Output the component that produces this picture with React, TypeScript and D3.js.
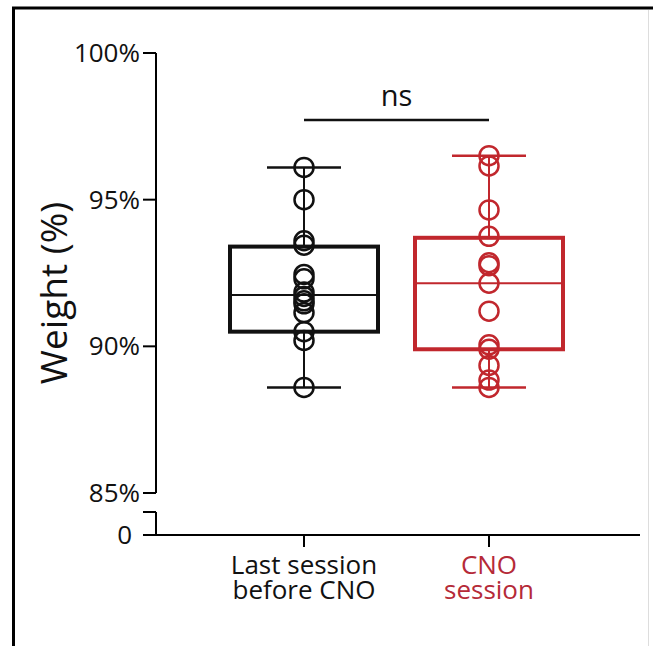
import React from "react";
import * as d3 from "d3";

const categories = ["Last session\nbefore CNO", "CNO\nsession"];
const beforeValues = [96.1, 95.0, 93.6, 93.45, 92.45, 92.3, 91.85, 91.7, 91.55, 91.45, 91.15, 90.5, 90.2, 88.6];
const cnoValues = [96.5, 96.15, 94.65, 93.75, 92.85, 92.75, 92.15, 91.2, 90.05, 89.9, 89.35, 88.85, 88.6];
const boxStats = [
  { q1: 90.5, median: 91.75, q3: 93.4, min: 88.6, max: 96.1 },
  { q1: 89.9, median: 92.15, q3: 93.7, min: 88.6, max: 96.5 },
];
const yTicks = [85, 90, 95, 100];
const seriesColors = ["#111111", "#c1272d"];
const labelColors = ["#111111", "#b52a38"];

const FONT = "'Open Sans', 'Noto Sans', sans-serif";

export default function App() {
  const y = d3.scaleLinear().domain([85, 100]).range([493, 53]);
  const x = d3.scalePoint<string>().domain(categories).range([304, 489]);
  const axisX = 156;
  const zeroY = 535;
  const breakTop = 512;
  const seriesValues = [beforeValues, cnoValues];
  const boxHalf = 74;
  const capHalf = 37;

  return (
    <svg
      width={653}
      height={646}
      style={{ position: "absolute", left: 0, top: 0, background: "#fff" }}
    >
      {/* frame */}
      <line x1={12} y1={8} x2={653} y2={8} stroke="#000" strokeWidth={3} />
      <line x1={13.5} y1={7} x2={13.5} y2={646} stroke="#000" strokeWidth={3} />
      <line x1={648.5} y1={10} x2={648.5} y2={646} stroke="#ddd" strokeWidth={1} />

      {/* y axis upper segment */}
      <line x1={axisX} y1={y(100)} x2={axisX} y2={y(85)} stroke="#000" strokeWidth={2} />
      {yTicks.map((t) => (
        <g key={t}>
          <line x1={axisX - 13} y1={y(t)} x2={axisX} y2={y(t)} stroke="#000" strokeWidth={2} />
          <text
            x={axisX - 16}
            y={y(t)}
            dy="0.35em"
            textAnchor="end"
            fontFamily={FONT}
            fontSize={26}
            fill="#111"
          >
            {t}%
          </text>
        </g>
      ))}
      {/* y axis lower segment (break) */}
      <line x1={axisX} y1={breakTop} x2={axisX} y2={zeroY} stroke="#000" strokeWidth={2} />
      <line x1={axisX - 13} y1={breakTop} x2={axisX} y2={breakTop} stroke="#000" strokeWidth={2} />
      <line x1={axisX - 13} y1={zeroY} x2={axisX} y2={zeroY} stroke="#000" strokeWidth={2} />
      <text x={axisX - 24} y={zeroY} dy="0.35em" textAnchor="end" fontFamily={FONT} fontSize={26} fill="#111">
        0
      </text>

      {/* x axis */}
      <line x1={143} y1={zeroY} x2={640} y2={zeroY} stroke="#000" strokeWidth={2} />
      {categories.map((c, i) => (
        <g key={c}>
          <line x1={x(c)} y1={zeroY} x2={x(c)} y2={zeroY + 12} stroke="#000" strokeWidth={2} />
          <text
            textAnchor="middle"
            fontFamily={FONT}
            fontSize={26}
            fill={labelColors[i]}
          >
            {c.split("\n").map((line, j) => (
              <tspan key={j} x={x(c)} y={574 + j * 25}>
                {line}
              </tspan>
            ))}
          </text>
        </g>
      ))}

      {/* y title */}
      <text
        transform={`translate(67, 293) rotate(-90)`}
        textAnchor="middle"
        fontFamily={FONT}
        fontSize={37}
        fill="#111"
      >
        Weight (%)
      </text>

      {/* boxes */}
      {categories.map((c, i) => {
        const cx = x(c) as number;
        const s = boxStats[i];
        const col = seriesColors[i];
        return (
          <g key={c}>
            <line x1={cx} y1={y(s.max)} x2={cx} y2={y(s.q3)} stroke={col} strokeWidth={2} />
            <line x1={cx} y1={y(s.q1)} x2={cx} y2={y(s.min)} stroke={col} strokeWidth={2} />
            <line x1={cx - capHalf} y1={y(s.max)} x2={cx + capHalf} y2={y(s.max)} stroke={col} strokeWidth={2.5} />
            <line x1={cx - capHalf} y1={y(s.min)} x2={cx + capHalf} y2={y(s.min)} stroke={col} strokeWidth={2.5} />
            <rect
              x={cx - boxHalf}
              y={y(s.q3)}
              width={boxHalf * 2}
              height={y(s.q1) - y(s.q3)}
              fill="none"
              stroke={col}
              strokeWidth={4}
            />
            <line x1={cx - boxHalf} y1={y(s.median)} x2={cx + boxHalf} y2={y(s.median)} stroke={col} strokeWidth={2} />
            {seriesValues[i].map((v, k) => (
              <circle key={k} cx={cx} cy={y(v)} r={9.5} fill="none" stroke={col} strokeWidth={2.5} />
            ))}
          </g>
        );
      })}

      {/* significance */}
      <line x1={x(categories[0])} y1={120} x2={x(categories[1])} y2={120} stroke="#111" strokeWidth={2.5} />
      <text
        x={((x(categories[0]) as number) + (x(categories[1]) as number)) / 2}
        y={106}
        textAnchor="middle"
        fontFamily={FONT}
        fontSize={29}
        fill="#111"
      >
        ns
      </text>
    </svg>
  );
}
